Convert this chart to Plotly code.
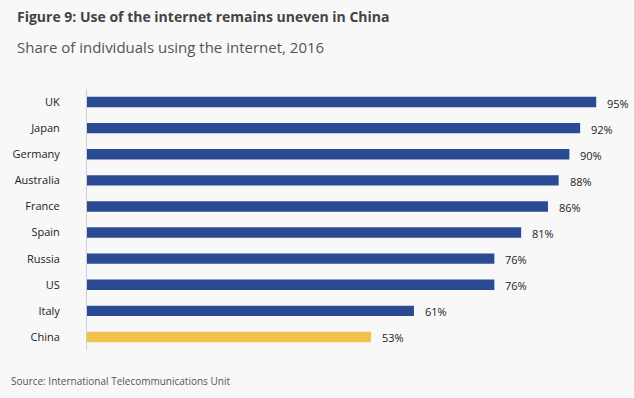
import plotly.graph_objects as go

countries = ["UK", "Japan", "Germany", "Australia", "France", "Spain", "Russia", "US", "Italy", "China"]
values = [95, 92, 90, 88, 86, 81, 76, 76, 61, 53]
labels = ["95%", "92%", "90%", "88%", "86%", "81%", "76%", "76%", "61%", "53%"]

BLUE = "rgb(43,74,148)"
YELLOW = "rgb(240,194,75)"
colors = [YELLOW if c == "China" else BLUE for c in countries]
FONT = "Open Sans, Lato, sans-serif"

L, R, T, B = 87, 11, 89, 48
PW, PH = 634 - L - R, 398 - T - B

fig = go.Figure()
fig.add_trace(go.Bar(
    x=values, y=countries, orientation="h",
    marker=dict(color=colors, line=dict(width=0)),
    hoverinfo="skip",
))

for c, v, t in zip(countries, values, labels):
    fig.add_annotation(x=v, y=c, text=t, showarrow=False, xanchor="left",
                       xshift=9, yshift=-1,
                       font=dict(family=FONT, size=11, color="#222"))

def px_x(px):
    return (px - L) / PW

def px_y(py):
    return 1 - (py - T) / PH

fig.update_layout(
    width=634, height=398,
    paper_bgcolor="#f8f8f8", plot_bgcolor="#f8f8f8",
    margin=dict(l=L, r=R, t=T, b=B, autoexpand=False),
    bargap=0.6,
    showlegend=False,
    font=dict(family=FONT, color="#222"),
    xaxis=dict(range=[0, 100], visible=False, fixedrange=True, automargin=False),
    yaxis=dict(autorange="reversed", showline=True, linecolor="#cfcfcf", linewidth=1,
               showgrid=False, zeroline=False, ticks="", ticklabelstandoff=24,
               automargin=False, fixedrange=True,
               tickfont=dict(family=FONT, size=11, color="#222")),
    annotations=list(fig.layout.annotations) + [
        dict(text="<b>Figure 9: Use of the internet remains uneven in China</b>",
             xref="paper", yref="paper", x=px_x(15), y=px_y(17),
             xanchor="left", yanchor="middle", showarrow=False,
             font=dict(size=14, color="#444", family=FONT)),
        dict(text="Share of individuals using the internet, 2016",
             xref="paper", yref="paper", x=px_x(15), y=px_y(47),
             xanchor="left", yanchor="middle", showarrow=False,
             font=dict(size=15, color="#555", family=FONT)),
        dict(text="Source: International Telecommunications Unit",
             xref="paper", yref="paper", x=px_x(9), y=px_y(381),
             xanchor="left", yanchor="middle", showarrow=False,
             font=dict(size=10, color="#555", family=FONT)),
    ],
)

fig.write_html(
    "out.html",
    config={"displayModeBar": False},
    post_script="document.body.style.margin='0';document.body.style.overflow='hidden';document.body.style.background='#f8f8f8';",
)
